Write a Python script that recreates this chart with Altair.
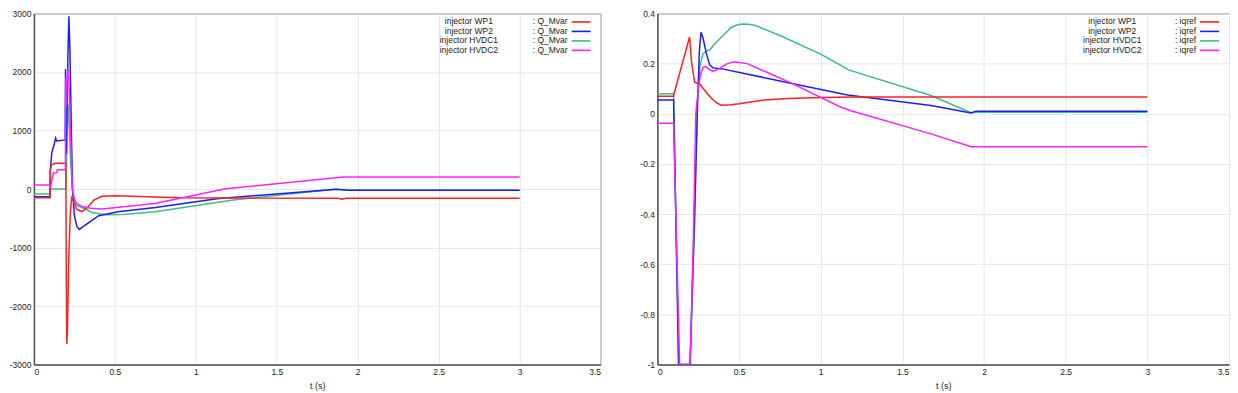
import altair as alt
import pandas as pd

# ---------------- data ----------------
series_names = ["injector WP1", "injector WP2", "injector HVDC1", "injector HVDC2"]
series_colors = ["#ff2020", "#1c1cff", "#3cbf7f", "#ff22ff"]

# Left panel: Q_Mvar
q_wp1_t = [0, 0.099, 0.101, 0.108, 0.13, 0.197, 0.2, 0.203, 0.207, 0.215, 0.225, 0.233, 0.25, 0.265, 0.295, 0.33, 0.37, 0.42, 0.5, 0.7, 0.9, 1.2, 1.88, 1.9, 1.93, 3.0]
q_wp1 = [-150, -150, 330, 410, 440, 440, -1500, -2650, -2400, -1200, -400, -150, -250, -350, -385, -320, -190, -125, -115, -130, -150, -155, -157, -175, -157, -157]

q_wp2_t = [0, 0.099, 0.101, 0.11, 0.125, 0.13, 0.134, 0.14, 0.193, 0.195, 0.198, 0.2, 0.21, 0.216, 0.222, 0.23, 0.238, 0.25, 0.265, 0.28, 0.3, 0.33, 0.4, 0.52, 0.75, 1.13, 1.87, 1.95, 3.0]
q_wp2 = [-130, -130, 300, 620, 760, 830, 870, 820, 840, 2050, 900, 600, 2300, 2950, 2400, 1200, 0, -450, -640, -690, -650, -590, -455, -390, -315, -165, -5, -20, -20]

q_hvdc1_t = [0, 0.099, 0.101, 0.198, 0.202, 0.21, 0.218, 0.228, 0.24, 0.255, 0.27, 0.3, 0.36, 0.44, 0.55, 0.75, 1.22, 1.86, 1.95, 3.0]
q_hvdc1 = [-85, -85, 0, 0, 600, 1450, 1100, 400, -50, -220, -290, -320, -400, -440, -435, -390, -190, -5, -20, -20]

q_hvdc2_t = [0, 0.099, 0.101, 0.12, 0.14, 0.145, 0.194, 0.197, 0.2, 0.204, 0.211, 0.218, 0.228, 0.237, 0.25, 0.265, 0.3, 0.35, 0.42, 0.747, 1.175, 1.91, 3.0]
q_hvdc2 = [70, 70, 20, 270, 280, 330, 330, 1900, 1400, 1800, 2050, 1700, 800, 0, -180, -250, -300, -330, -343, -247, 0, 207, 207]

# Right panel: iqref
iq_wp1_t = [0, 0.099, 0.102, 0.197, 0.21, 0.228, 0.258, 0.3, 0.33, 0.36, 0.39, 0.45, 0.5, 0.655, 0.8, 1.0, 1.2, 3.0]
iq_wp1 = [0.07, 0.07, 0.08, 0.306, 0.2, 0.126, 0.119, 0.085, 0.062, 0.044, 0.034, 0.036, 0.04, 0.055, 0.061, 0.065, 0.067, 0.067]

iq_wp2_t = [0, 0.099, 0.13, 0.2, 0.225, 0.244, 0.257, 0.267, 0.28, 0.3, 0.32, 0.34, 0.39, 0.83, 1.165, 1.675, 1.92, 1.95, 3.0]
iq_wp2 = [0.055, 0.055, -1, -1, -0.45, 0, 0.25, 0.325, 0.3, 0.24, 0.195, 0.183, 0.18, 0.12, 0.075, 0.033, 0.003, 0.01, 0.01]

iq_hvdc1_t = [0, 0.099, 0.13, 0.2, 0.23, 0.245, 0.26, 0.279, 0.3, 0.32, 0.35, 0.39, 0.452, 0.49, 0.524, 0.56, 0.6, 0.757, 1.0, 1.12, 1.17, 1.675, 1.92, 1.95, 3.0]
iq_hvdc1 = [0.08, 0.08, -1, -1, -0.4, 0.05, 0.19, 0.24, 0.25, 0.254, 0.278, 0.304, 0.344, 0.355, 0.358, 0.357, 0.352, 0.31, 0.238, 0.194, 0.175, 0.073, 0.004, 0.006, 0.006]

iq_hvdc2_t = [0, 0.099, 0.136, 0.2, 0.22, 0.235, 0.25, 0.265, 0.28, 0.293, 0.315, 0.34, 0.38, 0.42, 0.468, 0.55, 0.83, 1.12, 1.18, 1.675, 1.92, 3.0]
iq_hvdc2 = [-0.038, -0.038, -1, -1, -0.5, 0, 0.1, 0.16, 0.185, 0.189, 0.178, 0.169, 0.18, 0.198, 0.207, 0.2, 0.119, 0.027, 0.013, -0.08, -0.131, -0.131]

x_ticks = [0, 0.5, 1, 1.5, 2, 2.5, 3, 3.5]
q_ticks = [-3000, -2000, -1000, 0, 1000, 2000, 3000]
iq_ticks = [-1, -0.8, -0.6, -0.4, -0.2, 0, 0.2, 0.4]

FONT = "Liberation Sans"
H = 352
W_L = 568
W_R = 573
LABEL_EXPR = "datum.value < 0 ? '-' + format(-datum.value, '~g') : format(datum.value, '~g')"


def panel(series, ydomain, yticks, width, suffix, name_center_off):
    # drawing order: HVDC1, WP2, WP1, HVDC2
    draw_order = [2, 1, 0, 3]
    layers = []
    for idx in draw_order:
        t, v = series[idx]
        df = pd.DataFrame({"t": t, "v": v})
        layers.append(
            alt.Chart(df)
            .mark_line(color=series_colors[idx], strokeWidth=1.5, clip=True)
            .encode(
                x=alt.X("t:Q", scale=alt.Scale(domain=[0, 3.5], nice=False, zero=False),
                        axis=alt.Axis(values=x_ticks, title="t (s)", labelExpr=LABEL_EXPR)),
                y=alt.Y("v:Q", scale=alt.Scale(domain=ydomain, nice=False, zero=False),
                        axis=alt.Axis(values=yticks, title=None, labelExpr=LABEL_EXPR)),
            )
        )
    # custom legend (top-right inside the plot)
    row_y = [8, 17.5, 27, 36.5]
    for i, name in enumerate(series_names):
        d = pd.DataFrame({"label": [name], "suffix": [suffix]})
        layers.append(
            alt.Chart(d).mark_text(font=FONT, fontSize=8.5, color="#222", align="center", baseline="middle")
            .encode(x=alt.value(width - name_center_off), y=alt.value(row_y[i]), text="label:N")
        )
        layers.append(
            alt.Chart(d).mark_text(font=FONT, fontSize=8.5, color="#222", align="right", baseline="middle")
            .encode(x=alt.value(width - 33), y=alt.value(row_y[i]), text="suffix:N")
        )
        layers.append(
            alt.Chart(d).mark_rule(color=series_colors[i], strokeWidth=1.6)
            .encode(x=alt.value(width - 29), x2=alt.value(width - 10), y=alt.value(row_y[i] + 0.5))
        )
    return alt.layer(*layers).properties(width=width, height=H)


left = panel(
    [(q_wp1_t, q_wp1), (q_wp2_t, q_wp2), (q_hvdc1_t, q_hvdc1), (q_hvdc2_t, q_hvdc2)],
    [-3000, 3000], q_ticks, W_L, ": Q_Mvar", 132,
)
right = panel(
    [(iq_wp1_t, iq_wp1), (iq_wp2_t, iq_wp2), (iq_hvdc1_t, iq_hvdc1), (iq_hvdc2_t, iq_hvdc2)],
    [-1, 0.4], iq_ticks, W_R, ": iqref", 117,
)

chart = (
    alt.hconcat(left, right, spacing=37)
    .properties(padding=0)
    .configure_view(stroke="#606060", strokeWidth=1)
    .configure_axis(
        labelFont=FONT, labelFontSize=8.5, labelColor="#222", labelPadding=3,
        ticks=False, domainColor="#555", domainWidth=1.5,
        gridColor="#e6e6e6", gridWidth=1,
        titleFont=FONT, titleFontSize=9, titleFontWeight="normal", titleColor="#222",
        titlePadding=5,
    )
)

chart.save("out.html", embed_options={"renderer": "svg", "actions": False})
